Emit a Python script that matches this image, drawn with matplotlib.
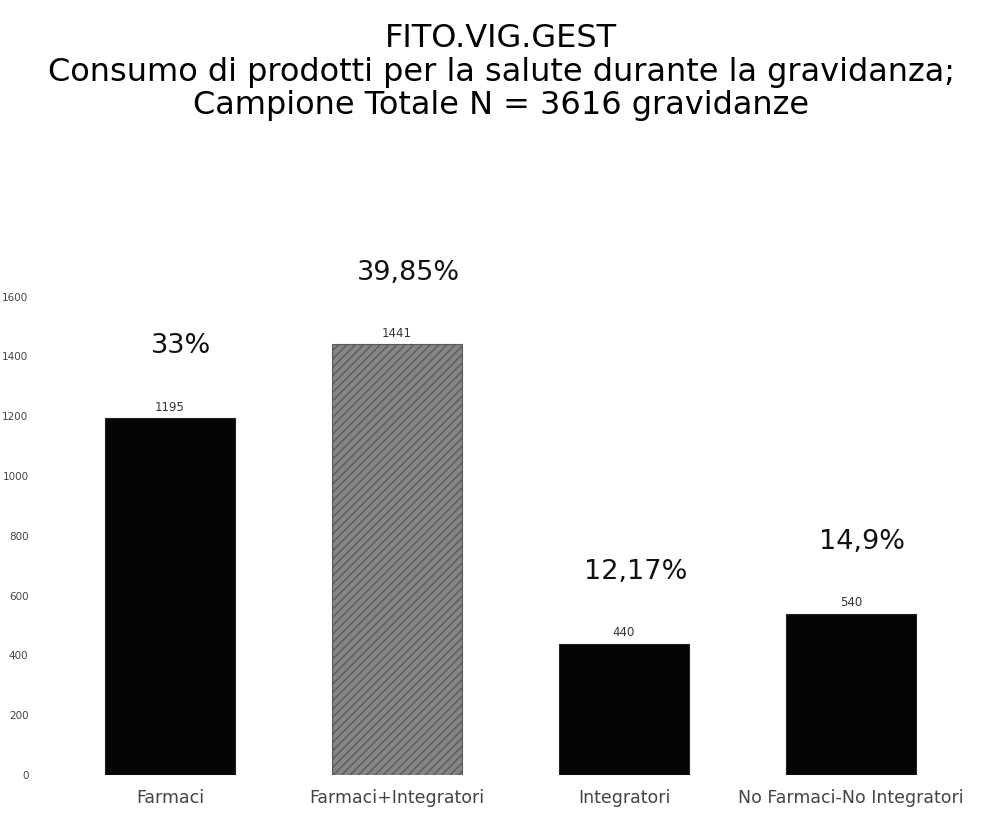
import matplotlib.pyplot as plt
import numpy as np

plt.rcParams["font.family"] = ["DejaVu Sans"]

categorie = ["Farmaci", "Farmaci+Integratori", "Integratori", "No Farmaci-No Integratori"]
casi = [1195, 1441, 440, 540]
percentuali = ["33%", "39,85%", "12,17%", "14,9%"]
yticks = [0, 200, 400, 600, 800, 1000, 1200, 1400, 1600]

fig = plt.figure(figsize=(10.02, 8.15), dpi=100)
ax = fig.add_axes([0.07, 0.049, 0.888, 0.587])

x = np.arange(len(categorie))
colori = ["#050505", "#858585", "#050505", "#050505"]
bars = ax.bar(x, casi, width=0.57, color=colori, edgecolor="#222222", linewidth=0.8)
bars[1].set_hatch("////")
bars[1].set_edgecolor("#5a5a5a")

for b, v, p in zip(bars, casi, percentuali):
    cx = b.get_x() + b.get_width() / 2
    ax.annotate(str(v), (cx, v), xytext=(0, 3), textcoords="offset points",
                ha="center", va="bottom", fontsize=8.5, color="#333333")
    ax.annotate(p, (cx + 0.05, v), xytext=(0, 42), textcoords="offset points",
                ha="center", va="bottom", fontsize=19.5, color="#111111")

ax.set_xlim(-0.44, 3.48)
ax.set_ylim(0, 1600)
ax.set_yticks(yticks)
ax.set_yticklabels([str(t) for t in yticks], fontsize=7.5, color="#444444")
ax.set_xticks(x)
ax.set_xticklabels(categorie, fontsize=12.5, color="#444444")
ax.tick_params(axis="both", length=0)
ax.tick_params(axis="x", pad=10)
ax.tick_params(axis="y", pad=30)
for s in ax.spines.values():
    s.set_visible(False)

fig.text(0.5, 0.953, "FITO.VIG.GEST", ha="center", va="center", fontsize=23)
fig.text(0.5, 0.911, "Consumo di prodotti per la salute durante la gravidanza;",
         ha="center", va="center", fontsize=23)
fig.text(0.5, 0.870, "Campione Totale N = 3616 gravidanze", ha="center", va="center",
         fontsize=23)

fig.savefig("out.png", dpi=100)
